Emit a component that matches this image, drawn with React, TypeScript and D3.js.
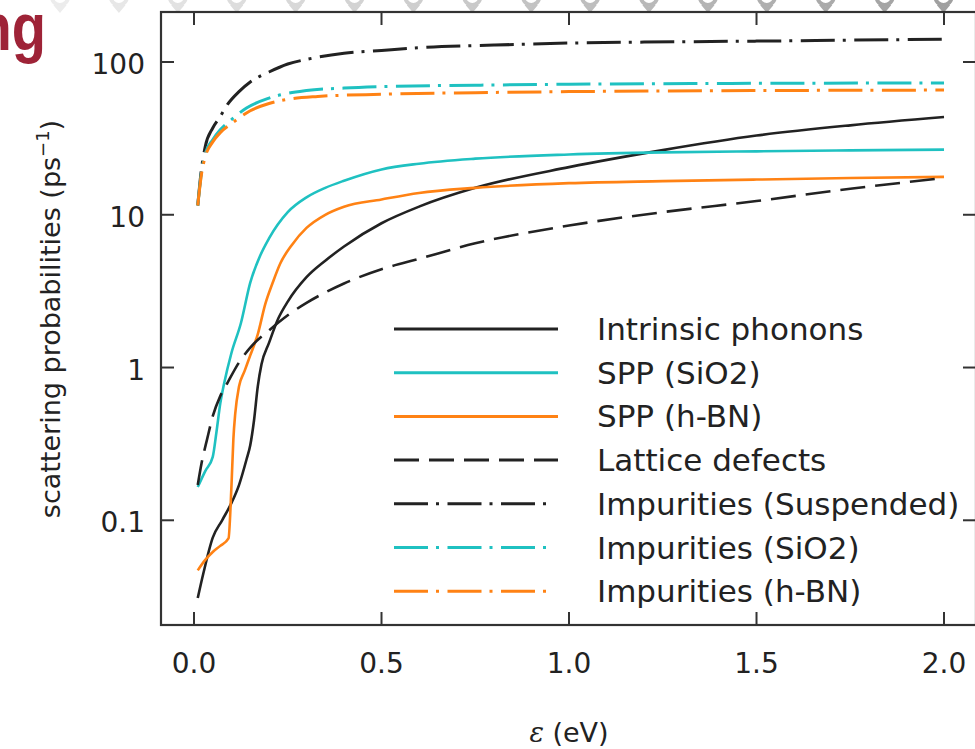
import React from "react";
import * as d3 from "d3";

// ---------- data ----------
const seriesLabels = [
  "Intrinsic phonons",
  "SPP (SiO2)",
  "SPP (h-BN)",
  "Lattice defects",
  "Impurities (Suspended)",
  "Impurities (SiO2)",
  "Impurities (h-BN)",
];

const phononE = [0.01, 0.025, 0.05, 0.075, 0.1, 0.12, 0.14, 0.15, 0.16, 0.17, 0.18, 0.2, 0.225, 0.25, 0.3, 0.35, 0.4, 0.5, 0.6, 0.75, 1.0, 1.25, 1.5, 1.75, 2.0];
const phononV = [0.031, 0.045, 0.077, 0.1, 0.13, 0.17, 0.25, 0.31, 0.45, 0.75, 1.05, 1.45, 2.1, 2.7, 3.9, 5.0, 6.2, 8.8, 11.3, 15.0, 20.5, 26.5, 33.0, 38.5, 43.6];

const sppSiO2E = [0.01, 0.03, 0.05, 0.06, 0.07, 0.08, 0.1, 0.125, 0.15, 0.175, 0.2, 0.25, 0.3, 0.35, 0.4, 0.5, 0.6, 0.75, 1.0, 1.25, 1.5, 1.75, 2.0];
const sppSiO2V = [0.165, 0.21, 0.26, 0.38, 0.58, 0.78, 1.25, 1.95, 3.6, 5.3, 7.0, 10.4, 13.0, 15.0, 16.7, 19.8, 21.6, 23.3, 24.8, 25.6, 26.0, 26.4, 26.7];

const sppBNE = [0.01, 0.03, 0.05, 0.07, 0.092, 0.1, 0.105, 0.11, 0.12, 0.135, 0.15, 0.17, 0.19, 0.21, 0.23, 0.26, 0.3, 0.35, 0.4, 0.5, 0.6, 0.75, 1.0, 1.25, 1.5, 1.75, 2.0];
const sppBNV = [0.047, 0.055, 0.062, 0.068, 0.076, 0.17, 0.34, 0.5, 0.75, 0.95, 1.2, 1.65, 2.6, 3.6, 4.8, 6.3, 8.2, 10.0, 11.3, 12.6, 13.9, 15.0, 16.1, 16.6, 17.0, 17.4, 17.7];

const defectE = [0.01, 0.02, 0.035, 0.05, 0.07, 0.09, 0.12, 0.15, 0.2, 0.25, 0.3, 0.35, 0.4, 0.5, 0.6, 0.75, 1.0, 1.25, 1.5, 1.75, 2.0];
const defectV = [0.17, 0.235, 0.34, 0.48, 0.65, 0.8, 1.08, 1.35, 1.75, 2.2, 2.65, 3.1, 3.55, 4.4, 5.15, 6.5, 8.5, 10.4, 12.3, 14.8, 17.4];

const impSuspE = [0.01, 0.02, 0.03, 0.05, 0.07, 0.09, 0.12, 0.15, 0.2, 0.25, 0.3, 0.4, 0.5, 0.6, 0.8, 1.0, 1.2, 1.5, 1.75, 2.0];
const impSuspV = [11.5, 20, 28, 37, 44, 53, 64, 74, 86, 97, 104, 114, 119, 124, 129, 133, 135, 137, 139, 141];

const impSiO2E = [0.01, 0.02, 0.03, 0.05, 0.07, 0.1, 0.14, 0.2, 0.3, 0.4, 0.5, 0.75, 1.0, 1.5, 2.0];
const impSiO2V = [11.5, 19, 25, 31, 36, 42, 50, 58, 65, 67.5, 69, 70.5, 71.5, 72.5, 73];

const impBNE = [0.01, 0.02, 0.03, 0.05, 0.07, 0.1, 0.15, 0.2, 0.25, 0.33, 0.5, 0.75, 1.0, 1.5, 2.0];
const impBNV = [11.5, 18.5, 24, 30, 34.5, 39.5, 48, 53.5, 57, 59.5, 61.5, 63, 64, 65, 65.5];

const xTicks = [0.0, 0.5, 1.0, 1.5, 2.0];
const yTicks = [0.1, 1, 10, 100];
const yTickLabels = ["0.1", "1", "10", "100"];

// ---------- styling ----------
const W = 975;
const H = 749;
const M = { left: 161, right: 976, top: 12, bottom: 625 };
const BLACK = "#222222";
const CYAN = "#1fc1c1";
const ORANGE = "#ff8214";
const DASH = "25,10";
const DASHDOT = "34,8,3,8.5";
const FONT = "'DejaVu Sans', Verdana, sans-serif";

const seriesDefs = [
  { e: phononE, v: phononV, color: BLACK, dash: null },
  { e: sppSiO2E, v: sppSiO2V, color: CYAN, dash: null },
  { e: sppBNE, v: sppBNV, color: ORANGE, dash: null },
  { e: defectE, v: defectV, color: BLACK, dash: DASH },
  { e: impSuspE, v: impSuspV, color: BLACK, dash: DASHDOT },
  { e: impSiO2E, v: impSiO2V, color: CYAN, dash: DASHDOT },
  { e: impBNE, v: impBNV, color: ORANGE, dash: DASHDOT },
];

export default function App() {
  const x = d3.scaleLinear().domain([-0.088, 2.0853]).range([M.left, M.right]);
  const y = d3.scaleLog().domain([0.02063, 212.5]).range([M.bottom, M.top]);

  const line = d3
    .line<[number, number]>()
    .x((d) => x(d[0]))
    .y((d) => y(d[1]))
    .curve(d3.curveMonotoneX);

  const ornamentXs = d3.range(16).map((i) => 60 + i * 58.9);
  const ornColor = d3.scaleLinear<string>().domain([0, 15]).range(["#ececec", "#a0a0a0"]);

  const legendX0 = 394;
  const legendX1 = 558;
  const legendDashDotEnd = 546;
  const legendTextX = 597;
  const legendY0 = 329;
  const legendStep = 43.7;
  const tickLen = 13;

  return (
    <svg
      width={W}
      height={H}
      viewBox={`0 0 ${W} ${H}`}
      style={{ position: "absolute", left: 0, top: 0, background: "#ffffff" }}
    >
      <defs>
        <clipPath id="plotclip">
          <rect x={M.left} y={M.top} width={M.right - M.left} height={M.bottom - M.top} />
        </clipPath>
      </defs>
      <rect x={0} y={0} width={W} height={H} fill="#ffffff" />

      {/* slide decorations */}
      {ornamentXs.map((ox, i) => (
        <g key={"orn" + i} stroke={ornColor(i)} fill="none" strokeWidth={4}>
          <circle cx={ox} cy={-3} r={8} />
          <path d={`M${ox - 5},${4} L${ox},${10} L${ox + 5},${4}`} />
        </g>
      ))}
      <text
        x={46}
        y={50}
        textAnchor="end"
        fontFamily="'Liberation Sans', Arial, sans-serif"
        fontWeight="bold"
        fontSize={66}
        fill="#9e2337"
        transform="translate(46,0) scale(0.85,1) translate(-46,0)"
      >
        ng
      </text>

      {/* curves */}
      <g clipPath="url(#plotclip)">
        {seriesDefs.map((s, i) => (
          <path
            key={"s" + i}
            d={line(s.e.map((e, j) => [e, s.v[j]] as [number, number])) || ""}
            fill="none"
            stroke={s.color}
            strokeWidth={s.dash === DASHDOT ? 3 : 2.6}
            strokeDasharray={s.dash || undefined}
            strokeLinejoin="round"
          />
        ))}
      </g>

      {/* frame */}
      <rect
        x={M.left}
        y={M.top}
        width={M.right - M.left}
        height={M.bottom - M.top}
        fill="none"
        stroke="#333333"
        strokeWidth={2.2}
      />

      {/* x ticks */}
      {xTicks.map((t) => (
        <g key={"xt" + t} stroke="#333333" strokeWidth={2}>
          <line x1={x(t)} x2={x(t)} y1={M.bottom} y2={M.bottom - tickLen} />
          <line x1={x(t)} x2={x(t)} y1={M.top} y2={M.top + tickLen} />
        </g>
      ))}
      {xTicks.map((t) => (
        <text
          key={"xl" + t}
          x={x(t)}
          y={673}
          textAnchor="middle"
          fontFamily={FONT}
          fontSize={28}
          fill="#222222"
        >
          {d3.format(".1f")(t)}
        </text>
      ))}

      {/* y ticks */}
      {yTicks.map((t) => (
        <g key={"yt" + t} stroke="#333333" strokeWidth={2}>
          <line x1={M.left} x2={M.left + tickLen} y1={y(t)} y2={y(t)} />
          <line x1={M.right} x2={M.right - tickLen} y1={y(t)} y2={y(t)} />
        </g>
      ))}
      {yTicks.map((t, i) => (
        <text
          key={"yl" + t}
          x={145}
          y={y(t) + 12}
          textAnchor="end"
          fontFamily={FONT}
          fontSize={28}
          fill="#222222"
        >
          {yTickLabels[i]}
        </text>
      ))}

      {/* axis titles */}
      <text
        transform={`translate(60,${319}) rotate(-90)`}
        textAnchor="middle"
        fontFamily={FONT}
        fontSize={27}
        fill="#222222"
      >
        scattering probabilities (ps
        <tspan fontSize={18} dy={-11}>
          −1
        </tspan>
        <tspan dy={11}>)</tspan>
      </text>
      <text x={569} y={742} textAnchor="middle" fontFamily={FONT} fontSize={27} fill="#222222">
        <tspan fontFamily="'DejaVu Serif', 'Liberation Serif', serif" fontStyle="italic">
          ε
        </tspan>
        {" (eV)"}
      </text>

      {/* legend */}
      {seriesDefs.map((s, i) => {
        const ly = legendY0 + i * legendStep;
        return (
          <g key={"lg" + i}>
            <line
              x1={legendX0}
              x2={s.dash === DASHDOT ? legendDashDotEnd : legendX1}
              y1={ly}
              y2={ly}
              stroke={s.color}
              strokeWidth={3}
              strokeDasharray={s.dash || undefined}
            />
            <text x={legendTextX} y={ly + 11} fontFamily={FONT} fontSize={31} fill="#222222">
              {seriesLabels[i]}
            </text>
          </g>
        );
      })}
    </svg>
  );
}
